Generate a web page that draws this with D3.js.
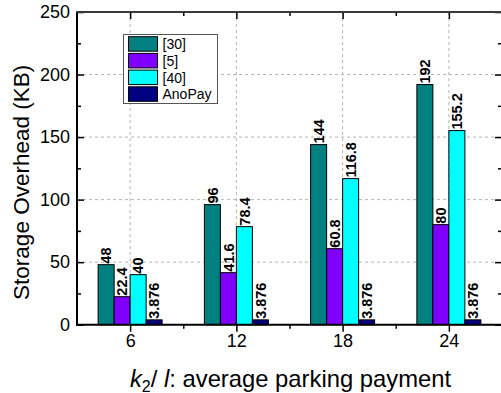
<!DOCTYPE html>
<html>
<head>
<meta charset="utf-8">
<script src="https://cdn.jsdelivr.net/npm/d3@7"></script>
<style>
  html, body { margin: 0; padding: 0; background: #fff; }
  svg { display: block; font-family: "Liberation Sans", Arial, sans-serif; }
</style>
</head>
<body>
<svg id="chart" width="501" height="393"></svg>
<script>
// Storage overhead per scheme, grouped by k2/l
const categories = [6, 12, 18, 24];
const seriesNames = ["[30]", "[5]", "[40]", "AnoPay"];
const values30 = [48, 96, 144, 192];
const values5 = [22.4, 41.6, 60.8, 80];
const values40 = [40, 78.4, 116.8, 155.2];
const valuesAnoPay = [3.876, 3.876, 3.876, 3.876];
const seriesColors = ["#008080", "#8000ff", "#00ffff", "#000080"];
const yTicks = [0, 50, 100, 150, 200, 250];
const yMinorTicks = [25, 75, 125, 175, 225];
const xMinorTicks = [9, 15, 21];

const seriesValues = [values30, values5, values40, valuesAnoPay];

const svg = d3.select("#chart");
const plotLeft = 77, plotRight = 502, plotTop = 12, plotBottom = 324.7;

const x = d3.scaleLinear().domain([3, 27]).range([plotLeft, plotRight]);
const y = d3.scaleLinear().domain([0, 250]).range([plotBottom, plotTop]);
const inner = d3.scaleBand().domain(seriesNames).range([-32, 32]).padding(0);

// dashed grid
const grid = svg.append("g").attr("stroke", "#b4b4b4").attr("stroke-width", 1)
  .attr("stroke-dasharray", "3,3");
grid.selectAll("line.gx").data(categories).join("line")
  .attr("x1", d => x(d)).attr("x2", d => x(d))
  .attr("y1", plotTop).attr("y2", plotBottom);
grid.selectAll("line.gy").data(yTicks.filter(v => v > 0 && v < 250)).join("line")
  .attr("x1", plotLeft).attr("x2", plotRight)
  .attr("y1", d => y(d)).attr("y2", d => y(d));

// bars
const rows = [];
seriesNames.forEach((s, i) => {
  categories.forEach((c, j) => rows.push({ s, i, c, v: seriesValues[i][j] }));
});

svg.append("g").selectAll("rect").data(rows).join("rect")
  .attr("x", d => x(d.c) + inner(d.s))
  .attr("width", inner.bandwidth())
  .attr("y", d => y(d.v))
  .attr("height", d => y(0) - y(d.v))
  .attr("fill", d => seriesColors[d.i])
  .attr("stroke", "#000")
  .attr("stroke-width", 1);

// value labels
svg.append("g").selectAll("text").data(rows).join("text")
  .attr("transform", d => `translate(${x(d.c) + inner(d.s) + inner.bandwidth() / 2},${y(d.v) - 1}) rotate(-90)`)
  .attr("dy", "0.36em")
  .attr("text-anchor", "start")
  .attr("font-size", 14.5)
  .attr("font-weight", "bold")
  .attr("fill", "#000")
  .text(d => String(d.v));

// axes
const axisColor = "#000";
function styleAxis(g) {
  g.select(".domain").remove();
  g.selectAll(".tick line").attr("stroke", axisColor).attr("stroke-width", 1.5);
  g.selectAll(".tick text").attr("fill", "#000").attr("font-size", 18)
    .attr("font-family", "Liberation Sans, Arial, sans-serif");
}

const yAxis = svg.append("g").attr("transform", `translate(${plotLeft},0)`)
  .call(d3.axisLeft(y).tickValues(yTicks).tickSize(-7).tickPadding(7).tickFormat(d3.format("d")));
styleAxis(yAxis);
const yMinor = svg.append("g").attr("transform", `translate(${plotLeft},0)`)
  .call(d3.axisLeft(y).tickValues(yMinorTicks).tickSize(-4).tickFormat(""));
styleAxis(yMinor);

const yRight = svg.append("g").attr("transform", `translate(${plotRight},0)`)
  .call(d3.axisRight(y).tickValues(yTicks).tickSize(-7).tickFormat(""));
styleAxis(yRight);
const yRightMinor = svg.append("g").attr("transform", `translate(${plotRight},0)`)
  .call(d3.axisRight(y).tickValues(yMinorTicks).tickSize(-4).tickFormat(""));
styleAxis(yRightMinor);

const xAxis = svg.append("g").attr("transform", `translate(0,${plotBottom})`)
  .call(d3.axisBottom(x).tickValues(categories).tickSize(7).tickPadding(3).tickFormat(d3.format("d")));
styleAxis(xAxis);
const xMinor = svg.append("g").attr("transform", `translate(0,${plotBottom})`)
  .call(d3.axisBottom(x).tickValues(xMinorTicks).tickSize(4).tickFormat(""));
styleAxis(xMinor);

const xTop = svg.append("g").attr("transform", `translate(0,${plotTop})`)
  .call(d3.axisTop(x).tickValues(categories).tickSize(-7).tickFormat(""));
styleAxis(xTop);
const xTopMinor = svg.append("g").attr("transform", `translate(0,${plotTop})`)
  .call(d3.axisTop(x).tickValues(xMinorTicks).tickSize(-4).tickFormat(""));
styleAxis(xTopMinor);

// frame lines
const frame = svg.append("g").attr("stroke-width", 2).attr("stroke-linecap", "square");
frame.append("line").attr("x1", plotLeft).attr("x2", plotRight).attr("y1", plotBottom).attr("y2", plotBottom).attr("stroke", "#000");
frame.append("line").attr("x1", plotLeft).attr("x2", plotLeft).attr("y1", plotTop).attr("y2", plotBottom).attr("stroke", "#000");
frame.append("line").attr("x1", plotLeft).attr("x2", plotRight).attr("y1", plotTop).attr("y2", plotTop).attr("stroke", "#3a3a3a");
frame.append("line").attr("x1", plotRight).attr("x2", plotRight).attr("y1", plotTop).attr("y2", plotBottom).attr("stroke", "#3a3a3a");

// axis titles
svg.append("text")
  .attr("transform", `translate(28.5,${(plotTop + plotBottom) / 2 + 14}) rotate(-90)`)
  .attr("text-anchor", "middle")
  .attr("font-size", 22.5)
  .attr("fill", "#000")
  .text("Storage Overhead (KB)");

const xTitle = svg.append("text")
  .attr("x", (plotLeft + plotRight) / 2 + 1)
  .attr("y", 386.5)
  .attr("text-anchor", "middle")
  .attr("font-size", 23.8)
  .attr("fill", "#000");
xTitle.append("tspan").attr("font-style", "italic").text("k");
xTitle.append("tspan").attr("font-size", 16).attr("dy", 5).text("2");
xTitle.append("tspan").attr("dy", -5).text("/ ");
xTitle.append("tspan").attr("font-style", "italic").text("l");
xTitle.append("tspan").text(": average parking payment");

// legend
const legend = svg.append("g");
legend.append("rect")
  .attr("x", 123.5).attr("y", 34.5).attr("width", 94).attr("height", 69)
  .attr("fill", "#fff").attr("stroke", "#555").attr("stroke-width", 1);
const items = legend.selectAll("g").data(seriesNames).join("g")
  .attr("transform", (d, i) => `translate(128.5,${36.7 + i * 16.7})`);
items.append("rect")
  .attr("width", 29).attr("height", 14.5)
  .attr("fill", (d, i) => seriesColors[i])
  .attr("stroke", "#000").attr("stroke-width", 1);
items.append("text")
  .attr("x", 34).attr("y", 7.5).attr("dy", "0.35em")
  .attr("font-size", 14).attr("fill", "#000")
  .text(d => d);
</script>
</body>
</html>
